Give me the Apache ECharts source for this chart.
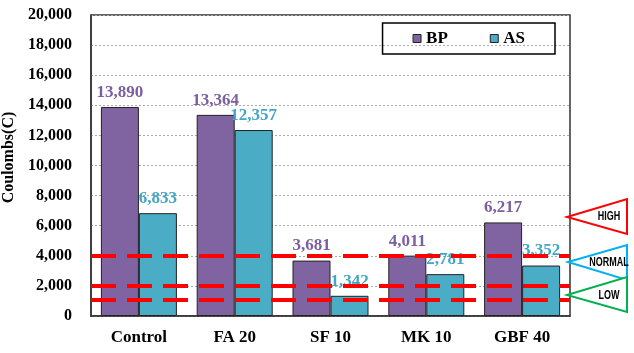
<!DOCTYPE html>
<html>
<head>
<meta charset="utf-8">
<script src="https://cdn.jsdelivr.net/npm/echarts@6/dist/echarts.min.js"></script>
<style>
  html, body { margin: 0; padding: 0; background: #fff; }
  #chart { width: 634px; height: 353px; }
</style>
</head>
<body>
<div id="chart"></div>
<script>
const categories = ['Control', 'FA 20', 'SF 10', 'MK 10', 'GBF 40'];
const bpValues = [13890, 13364, 3681, 4011, 6217];
const asValues = [6833, 12357, 1342, 2781, 3352];
// limits of the penetrability classes (dashed red lines)
const limitValues = [4000, 2000, 1100];
const yTicks = { min: 0, max: 20000, interval: 2000 };

const serif = '"Liberation Serif", "DejaVu Serif", serif';
const sans = '"Liberation Sans", Arial, sans-serif';
const fmt = v => echarts.format.addCommas(v);

const chart = echarts.init(document.getElementById('chart'));

const labelStyle = color => ({
  show: true,
  position: 'top',
  distance: 6,
  color: color,
  fontFamily: serif,
  fontWeight: 'bold',
  fontSize: 17,
  formatter: p => fmt(p.value)
});

// classes boxes at the right side
function tag(pts, color, text, cy) {
  return [{
    type: 'polygon',
    shape: { points: pts },
    style: { fill: '#fff', stroke: color, lineWidth: 2 }
  }, {
    type: 'text',
    x: 609, y: cy,
    scaleX: 0.75,
    style: {
      text: text, fill: '#000', font: 'bold 12px ' + sans,
      align: 'center', verticalAlign: 'middle'
    }
  }];
}

const option = {
  backgroundColor: '#fff',
  animation: false,
  grid: {
    left: 91, right: 64, top: 15, bottom: 37,
    outerBoundsMode: 'none',
    containLabel: false,
    show: true, borderColor: '#333', borderWidth: 1.5
  },
  legend: {
    right: 79, top: 23,
    width: 190, height: 32,
    padding: [7, 30, 7, 30],
    itemGap: 42,
    itemWidth: 8, itemHeight: 8,
    borderColor: '#000', borderWidth: 1.5,
    icon: 'rect',
    itemStyle: { borderColor: '#222', borderWidth: 1 },
    textStyle: { fontFamily: serif, fontWeight: 'bold', fontSize: 17, color: '#000' },
    data: ['BP', 'AS']
  },
  xAxis: {
    type: 'category',
    data: categories,
    axisTick: { show: false },
    axisLine: { lineStyle: { color: '#333', width: 1.5 } },
    axisLabel: { margin: 13, color: '#000', fontFamily: serif, fontWeight: 'bold', fontSize: 17 }
  },
  yAxis: {
    type: 'value',
    min: yTicks.min, max: yTicks.max, interval: yTicks.interval,
    name: 'Coulombs(C)',
    nameLocation: 'middle',
    nameGap: 69,
    nameTextStyle: { fontFamily: serif, fontWeight: 'bold', fontSize: 16, color: '#000', padding: [0, 0, 0, 16] },
    axisLine: { show: true, lineStyle: { color: '#333', width: 1.5 } },
    axisTick: { show: false },
    axisLabel: { margin: 19, color: '#000', fontFamily: serif, fontWeight: 'bold', fontSize: 16, formatter: fmt },
    splitLine: { lineStyle: { color: '#aaa', type: [2, 2] } }
  },
  series: [{
    name: 'BP',
    type: 'bar',
    barWidth: 38,
    barGap: '0%',
    data: bpValues,
    itemStyle: { color: '#8064a2', borderColor: '#222', borderWidth: 1 },
    label: labelStyle('#7b60a0'),
    z: 2
  }, {
    name: 'AS',
    type: 'bar',
    barWidth: 38,
    data: asValues,
    itemStyle: { color: '#4bacc6', borderColor: '#222', borderWidth: 1 },
    label: labelStyle('#41a7c4'),
    z: 2,
    markLine: {
      silent: true,
      symbol: 'none',
      label: { show: false },
      lineStyle: { color: '#ff0000', width: 4, type: [25, 11] },
      data: limitValues.map(v => ({ yAxis: v })),
      z: 5
    }
  }],
  graphic: [].concat(
    tag([[567, 217], [627, 199], [627, 234]], '#ff0000', 'HIGH', 217),
    tag([[568, 262], [627, 245], [627, 280]], '#00b0f0', 'NORMAL', 263),
    tag([[567, 295], [627, 277], [627, 312]], '#00b050', 'LOW', 296)
  )
};

chart.setOption(option);
</script>
</body>
</html>
